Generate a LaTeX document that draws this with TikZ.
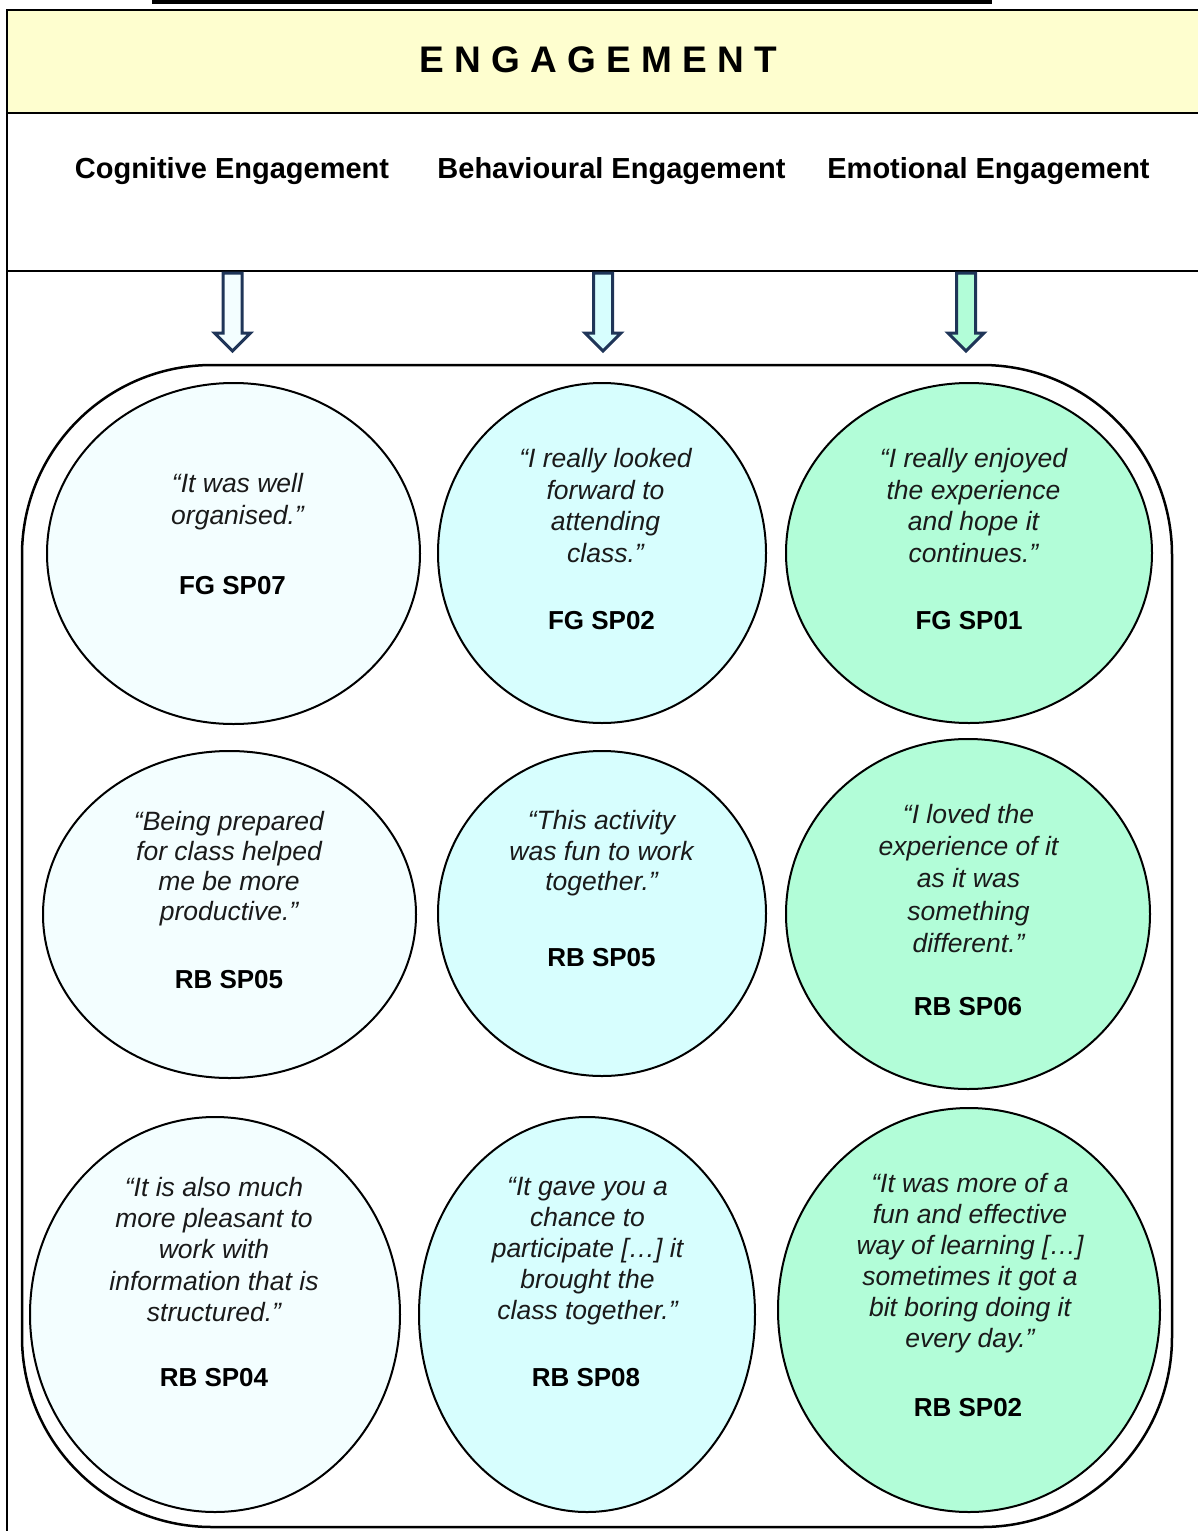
\documentclass[tikz,border=0pt]{standalone}
\usepackage{fontspec}
\setmainfont{Liberation Sans}
\usetikzlibrary{shapes.geometric}
\definecolor{titlebg}{HTML}{FEFECF}
\definecolor{colA}{HTML}{F3FEFF}
\definecolor{colB}{HTML}{D7FEFE}
\definecolor{colC}{HTML}{B2FDD8}
\definecolor{arrline}{HTML}{1F3558}
\definecolor{quotecol}{HTML}{1A1A1A}
\tikzset{
  frameline/.style={line width=2.5pt, draw=black},
  bubble/.style={ellipse, draw=black, line width=2pt, inner sep=0pt, outer sep=0pt},
  quote/.style={align=center, text=quotecol, inner sep=0pt, font=\fontsize{26.5}{31.5}\selectfont\itshape},
  tag/.style={inner sep=0pt, font=\fontsize{26}{30}\selectfont\bfseries},
  header/.style={inner sep=0pt, font=\fontsize{29}{34}\selectfont\bfseries},
  downarr/.pic={\draw[line width=3pt, draw=arrline, fill=#1, line join=miter]
     (-9.5,0) -- (9.5,0) -- (9.5,60) -- (18,60) -- (0,78) -- (-18,60) -- (-9.5,60) -- cycle;}
}
\begin{document}
\begin{tikzpicture}[x=1pt,y=-1pt]
\useasboundingbox (0,0) rectangle (1198,1531);
\clip (0,0) rectangle (1198,1531);
% caption fragment
\fill[black] (152,0) rectangle (992,4);
% title band and frame
\fill[titlebg] (7,10) rectangle (1215,113);
\draw[frameline] (1215,10) -- (7,10) -- (7,1545);
\draw[frameline] (7,113) -- (1215,113);
\draw[frameline] (7,271) -- (1215,271);
\node[inner sep=0pt, font=\fontsize{37}{44}\selectfont\bfseries] (title) at (598,60) {E N G A G E M E N T};
% headers
\node[header] (h1) at (232,171.5) {Cognitive Engagement};
\node[header] (h2) at (611.5,171.5) {Behavioural Engagement};
\node[header] (h3) at (988.5,171.5) {Emotional Engagement};
% block arrows
\pic at (232.5,273) {downarr=colA};
\pic at (603,273) {downarr=colB};
\pic at (966,273) {downarr=colC};
% container
\draw[line width=2.5pt, rounded corners=190pt] (22,365) rectangle (1172,1527);
% bubbles
\node[bubble, fill=colA, minimum width=373pt, minimum height=341pt] (c1) at (233.5,553.5) {};
\node[bubble, fill=colB, minimum width=328pt, minimum height=340pt] (c2) at (602,553) {};
\node[bubble, fill=colC, minimum width=366pt, minimum height=340pt] (c3) at (969,553) {};
\node[bubble, fill=colA, minimum width=373pt, minimum height=327pt] (c4) at (229.5,914.5) {};
\node[bubble, fill=colB, minimum width=328pt, minimum height=325pt] (c5) at (602,913.5) {};
\node[bubble, fill=colC, minimum width=364pt, minimum height=350pt] (c6) at (968,914) {};
\node[bubble, fill=colA, minimum width=370pt, minimum height=395pt] (c7) at (215,1314.5) {};
\node[bubble, fill=colB, minimum width=336pt, minimum height=395pt] (c8) at (587,1314.5) {};
\node[bubble, fill=colC, minimum width=382pt, minimum height=404pt] (c9) at (969,1310) {};
% quotes
\node[quote] (q1) at (237.5,501.5) {“It was well\\organised.”};
\node[quote] (q2) at (605.5,505.5) {“I really looked\\forward to\\attending\\class.”};
\node[quote] (q3) at (973.5,505.5) {“I really enjoyed\\the experience\\and hope it\\continues.”};
\node[quote, font=\fontsize{26.5}{30}\selectfont\itshape] (q4) at (229,868.5) {“Being prepared\\for class helped\\me be more\\productive.”};
\node[quote, font=\fontsize{26.5}{30.5}\selectfont\itshape] (q5) at (601.5,853.5) {“This activity\\was fun to work\\together.”};
\node[quote, font=\fontsize{26.5}{32.2}\selectfont\itshape] (q6) at (968.5,878.5) {“I loved the\\experience of it\\as it was\\something\\different.”};
\node[quote, font=\fontsize{26.5}{31.2}\selectfont\itshape] (q7) at (214,1249.5) {“It is also much\\more pleasant to\\work with\\information that is\\structured.”};
\node[quote, font=\fontsize{26.5}{31}\selectfont\itshape] (q8) at (587.5,1251) {“It gave you a\\chance to\\participate […] it\\brought the\\class together.”};
\node[quote, font=\fontsize{26.5}{31}\selectfont\itshape] (q9) at (970,1263.5) {“It was more of a\\fun and effective\\way of learning […]\\sometimes it got a\\bit boring doing it\\every day.”};
% tags
\node[tag] (l1) at (232.5,586) {FG SP07};
\node[tag] (l2) at (601.5,621) {FG SP02};
\node[tag] (l3) at (969,621) {FG SP01};
\node[tag] (l4) at (229,980) {RB SP05};
\node[tag] (l5) at (601.5,958) {RB SP05};
\node[tag] (l6) at (968,1007) {RB SP06};
\node[tag] (l7) at (214,1378) {RB SP04};
\node[tag] (l8) at (586,1378) {RB SP08};
\node[tag] (l9) at (968,1408) {RB SP02};
\end{tikzpicture}
\end{document}
